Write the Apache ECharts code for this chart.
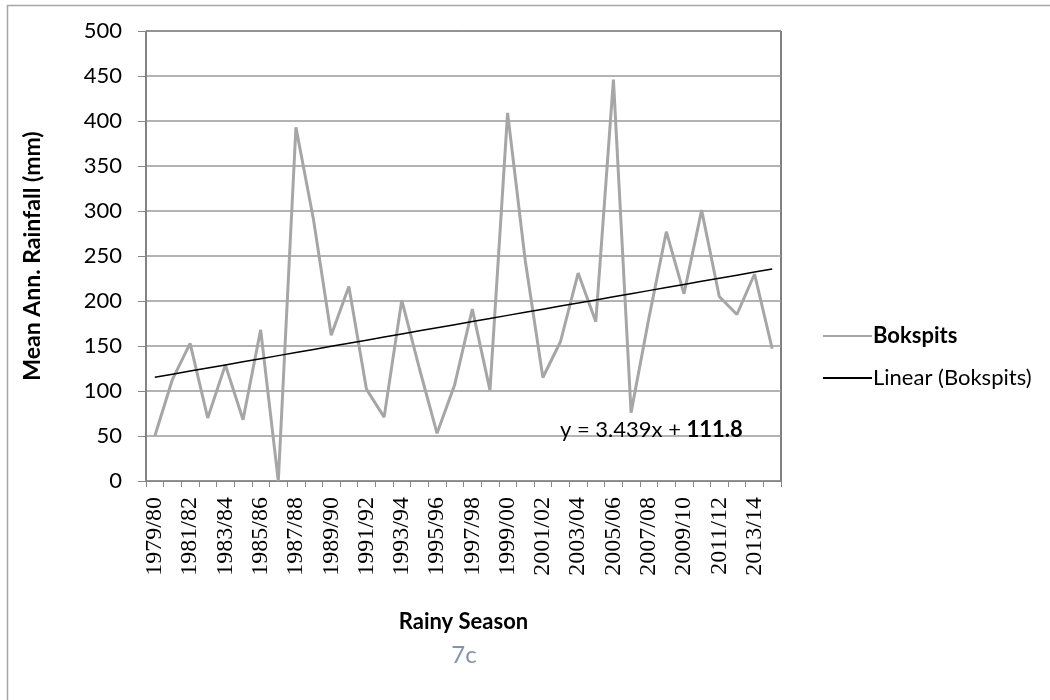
<!DOCTYPE html>
<html>
<head>
<meta charset="utf-8">
<script src="https://cdn.jsdelivr.net/npm/echarts@6/dist/echarts.min.js"></script>
<style>
  html, body { margin: 0; padding: 0; background: #fff; }
  #chart { width: 1050px; height: 700px; }
</style>
</head>
<body>
<div id="chart"></div>
<script>
// Rainy seasons, 1979/80 to 2014/15
const seasons = [
  '1979/80','1980/81','1981/82','1982/83','1983/84','1984/85','1985/86','1986/87','1987/88',
  '1988/89','1989/90','1990/91','1991/92','1992/93','1993/94','1994/95','1995/96','1996/97',
  '1997/98','1998/99','1999/00','2000/01','2001/02','2002/03','2003/04','2004/05','2005/06',
  '2006/07','2007/08','2008/09','2009/10','2010/11','2011/12','2012/13','2013/14','2014/15'
];

// Mean annual rainfall at Bokspits (mm)
const bokspits = [
  50, 113, 153, 70, 129, 68, 168, 0, 393,
  290, 162, 216, 102, 71, 201, 125, 53, 107,
  191, 101, 409, 245, 115, 155, 231, 177, 446,
  76, 180, 277, 208, 301, 205, 185, 230, 147
];

// Fitted linear trend: y = slope * x + intercept, x = 1, 2, ...
const trendSlope = 3.439;
const trendIntercept = 111.8;

const yTicks = { min: 0, max: 500, interval: 50 };

const trend = seasons.map((_, i) => +(trendSlope * (i + 1) + trendIntercept).toFixed(2));

const chart = echarts.init(document.getElementById('chart'), null, { renderer: 'canvas' });

const baseFont = 'Lato, "Open Sans", sans-serif';

chart.setOption({
  animation: false,
  backgroundColor: '#ffffff',
  grid: {
    left: 146, right: 269, top: 31, bottom: 219,
    show: true, borderColor: '#000000', borderWidth: 1, backgroundColor: 'transparent'
  },
  legend: {
    orient: 'vertical',
    left: 818, top: 320,
    itemWidth: 49, itemHeight: 2,
    itemGap: 20,
    icon: 'rect',
    data: [
      { name: 'Bokspits', textStyle: { fontWeight: 'bold' } },
      { name: 'Linear (Bokspits)' }
    ],
    textStyle: { color: '#000', fontFamily: baseFont, fontSize: 22, padding: [0, 0, 0, -4] }
  },
  xAxis: {
    type: 'category',
    data: seasons,
    boundaryGap: true,
    name: 'Rainy Season',
    nameLocation: 'middle',
    nameGap: 130,
    nameTextStyle: { color: '#000', fontFamily: baseFont, fontSize: 22, fontWeight: 'bold' },
    axisLine: { lineStyle: { color: '#868686', width: 1 } },
    axisTick: { show: true, interval: 0, length: 6, lineStyle: { color: '#868686' } },
    axisLabel: {
      interval: 1, rotate: 90, margin: 16,
      color: '#000', fontFamily: '"Liberation Serif", serif', fontSize: 24
    },
    splitLine: { show: false }
  },
  yAxis: {
    type: 'value',
    min: yTicks.min, max: yTicks.max, interval: yTicks.interval,
    name: 'Mean Ann. Rainfall (mm)',
    nameLocation: 'middle',
    nameGap: 102,
    nameRotate: 90,
    nameTextStyle: { color: '#000', fontFamily: baseFont, fontSize: 23, fontWeight: 'bold' },
    axisLine: { show: true, lineStyle: { color: '#868686', width: 1 } },
    axisTick: { show: true, length: 8, lineStyle: { color: '#868686' } },
    axisLabel: { margin: 24, color: '#000', fontFamily: baseFont, fontSize: 22 },
    splitLine: { show: true, lineStyle: { color: '#9a9a9a', width: 1.5 } }
  },
  series: [
    {
      name: 'Bokspits',
      type: 'line',
      data: bokspits,
      symbol: 'none',
      color: '#a6a6a6',
      lineStyle: { color: '#a6a6a6', width: 3 },
      z: 3
    },
    {
      name: 'Linear (Bokspits)',
      type: 'line',
      data: trend,
      symbol: 'none',
      color: '#000000',
      lineStyle: { color: '#000000', width: 1.5 },
      z: 4
    }
  ],
  graphic: [
    {
      type: 'rect',
      silent: true,
      shape: { x: 7.5, y: 5.5, width: 1200, height: 1000 },
      style: { fill: 'none', stroke: '#a6a6a6', lineWidth: 1.5 },
      z: -1
    },
    {
      type: 'text',
      x: 560, y: 430,
      z: 10,
      style: {
        text: 'y = 3.439x + {b|111.8}',
        fill: '#000',
        font: '22px ' + baseFont,
        verticalAlign: 'middle',
        rich: { b: { fontFamily: baseFont, fontSize: 22, fontWeight: 'bold', fill: '#000' } }
      }
    },
    {
      type: 'text',
      x: 464, y: 655,
      z: 10,
      style: {
        text: '7c',
        fill: '#8094b0',
        font: '24px ' + baseFont,
        align: 'center',
        verticalAlign: 'middle'
      }
    }
  ]
});
</script>
</body>
</html>
